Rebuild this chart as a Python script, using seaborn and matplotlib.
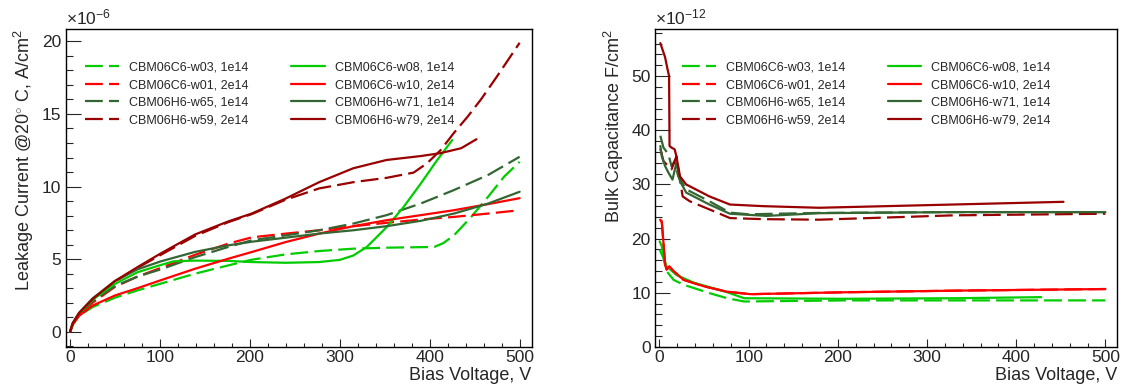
import matplotlib
matplotlib.use("Agg")
import matplotlib.pyplot as plt
import seaborn as sns
from matplotlib.ticker import MultipleLocator

sns.set_style("ticks")
plt.rcParams['font.family'] = ['Liberation Sans', 'DejaVu Sans']
plt.rcParams['mathtext.fontset'] = 'custom'
plt.rcParams['mathtext.rm'] = 'Liberation Sans'
plt.rcParams['mathtext.it'] = 'Liberation Sans'

# ---------------- data ----------------
labels = ["CBM06C6-w03, 1e14", "CBM06C6-w01, 2e14", "CBM06H6-w65, 1e14", "CBM06H6-w59, 2e14",
          "CBM06C6-w08, 1e14", "CBM06C6-w10, 2e14", "CBM06H6-w71, 1e14", "CBM06H6-w79, 2e14"]
colors = ["#00cc00", "#ff0000", "#336633", "#990000",
          "#00cc00", "#ff0000", "#336633", "#990000"]
dashed = [True, True, True, True, False, False, False, False]

# Leakage current (x1e-6 A/cm^2) vs bias voltage (V)
V_std = [0, 3, 10, 25, 50, 75, 101, 139, 176, 202, 240, 277, 315, 352, 390, 427, 465, 500]
iv_w03_v = [0, 3, 10, 25, 50, 75, 100, 139, 176, 202, 240, 277, 315, 352, 405, 415, 427, 446, 465, 483, 500]
iv_w03_i = [0, 0.5, 1.1, 1.7, 2.35, 2.85, 3.3, 4.0, 4.57, 4.96, 5.33, 5.56, 5.72, 5.79, 5.84, 6.1, 6.64, 7.9, 9.3, 10.7, 11.7]
iv_w01_v = V_std
iv_w01_i = [0, 0.55, 1.2, 2.0, 3.1, 3.8, 4.4, 5.3, 6.07, 6.5, 6.76, 6.99, 7.27, 7.5, 7.73, 7.91, 8.14, 8.37]
iv_w65_v = V_std
iv_w65_i = [0, 0.55, 1.2, 2.1, 3.15, 3.8, 4.3, 5.14, 5.84, 6.3, 6.64, 6.99, 7.45, 8.03, 8.83, 9.76, 10.8, 12.05]
iv_w59_v = [0, 3, 10, 25, 50, 75, 101, 139, 176, 202, 240, 277, 315, 352, 382, 397, 412, 427, 442, 457, 475, 500]
iv_w59_i = [0, 0.55, 1.25, 2.2, 3.45, 4.4, 5.3, 6.6, 7.55, 8.1, 9.1, 9.87, 10.3, 10.6, 10.96, 11.6, 12.5, 13.7, 14.8, 16.0, 17.6, 19.9]
iv_w08_v = [0, 3, 10, 25, 50, 75, 101, 115, 139, 176, 202, 240, 277, 300, 315, 330, 352, 371, 390, 408, 425]
iv_w08_i = [0, 0.55, 1.2, 2.2, 3.3, 4.1, 4.6, 4.85, 4.9, 4.88, 4.8, 4.75, 4.8, 4.95, 5.25, 5.84, 7.2, 8.6, 10.2, 11.8, 13.2]
iv_w10_v = V_std
iv_w10_i = [0, 0.5, 1.1, 1.8, 2.5, 3.0, 3.55, 4.34, 5.03, 5.49, 6.18, 6.76, 7.27, 7.68, 8.03, 8.37, 8.79, 9.2]
iv_w71_v = V_std
iv_w71_i = [0, 0.6, 1.3, 2.3, 3.5, 4.3, 4.85, 5.5, 5.95, 6.2, 6.48, 6.76, 6.99, 7.27, 7.64, 8.14, 8.83, 9.64]
iv_w79_v = [0, 3, 10, 25, 50, 75, 101, 139, 176, 202, 240, 277, 315, 352, 390, 412, 435, 452]
iv_w79_i = [0, 0.6, 1.3, 2.25, 3.5, 4.45, 5.4, 6.7, 7.6, 8.14, 9.18, 10.3, 11.26, 11.83, 12.1, 12.3, 12.64, 13.26]

# Bulk capacitance (x1e-12 F/cm^2) vs bias voltage (V)
cv_w03_v = [0.2, 4.5, 8, 15.8, 27, 57, 76, 95, 207, 330, 500]
cv_w03_c = [18, 16.4, 14, 12.4, 11.5, 9.9, 9.0, 8.4, 8.6, 8.6, 8.6]
cv_w01_v = [0.8, 2.6, 4.5, 6.3, 8, 11, 15.8, 27, 50, 76, 102, 207, 330, 500]
cv_w01_c = [23.4, 23.1, 19.2, 15.2, 14.3, 14.8, 14.0, 12.4, 11.2, 10.2, 9.75, 10.1, 10.4, 10.7]
cv_w65_v = [1, 4.5, 10, 13.5, 17, 21, 30, 56, 79, 100, 179, 329, 500]
cv_w65_c = [39, 36.8, 35.6, 33.4, 34.3, 31.5, 29.1, 26.9, 24.8, 24.5, 24.75, 24.9, 24.9]
cv_w59_v = [1, 4.5, 8, 13.5, 19, 23, 26, 34, 56, 79, 116, 179, 329, 500]
cv_w59_c = [36.6, 34.3, 33.7, 32.8, 35.2, 30.9, 27.8, 26.9, 25.4, 23.8, 23.6, 23.5, 24.3, 24.6]
cv_w08_v = [0.2, 2.6, 5, 8, 19, 38, 57, 76, 95, 207, 330, 428]
cv_w08_c = [19.5, 18.6, 16.4, 14.9, 13.3, 11.9, 11.0, 10.1, 9.0, 8.9, 9.0, 9.2]
cv_w10_v = [0.8, 2.6, 4.5, 6.3, 8, 11, 15.8, 27, 50, 76, 102, 207, 330, 500]
cv_w10_c = [23.5, 23.2, 19.2, 15.2, 14.3, 14.9, 14.0, 12.4, 11.2, 10.2, 9.75, 10.1, 10.4, 10.7]
cv_w71_v = [1, 2.6, 6.3, 10, 14.6, 19, 23, 30, 56, 79, 120, 179, 329, 500]
cv_w71_c = [37.1, 35.2, 33.4, 32.2, 30.9, 34.0, 30.6, 28.5, 26.3, 24.6, 24.2, 24.7, 24.9, 24.9]
cv_w79_v = [1, 2.6, 6.3, 9, 10.8, 11.3, 13.5, 17, 19, 23, 30, 56, 79, 116, 179, 329, 453]
cv_w79_c = [56.1, 55.3, 53.5, 51.3, 50, 37.1, 36.8, 36.5, 35.2, 31.5, 30, 27.8, 26.3, 26.0, 25.7, 26.3, 26.8]

iv_series = [(iv_w03_v, iv_w03_i), (iv_w01_v, iv_w01_i), (iv_w65_v, iv_w65_i), (iv_w59_v, iv_w59_i),
             (iv_w08_v, iv_w08_i), (iv_w10_v, iv_w10_i), (iv_w71_v, iv_w71_i), (iv_w79_v, iv_w79_i)]
cv_series = [(cv_w03_v, cv_w03_c), (cv_w01_v, cv_w01_c), (cv_w65_v, cv_w65_c), (cv_w59_v, cv_w59_c),
             (cv_w08_v, cv_w08_c), (cv_w10_v, cv_w10_c), (cv_w71_v, cv_w71_c), (cv_w79_v, cv_w79_c)]

# ---------------- figure ----------------
fig = plt.figure(figsize=(11.26, 3.87), dpi=100)
ax1 = fig.add_axes([65.5/1126, 1-347/387, (531.5-65.5)/1126, 318/387])
ax2 = fig.add_axes([655/1126, 1-347/387, (1117-655)/1126, 318/387])

dash_style = (0, (8, 2.8))


def draw(ax, series):
    handles = []
    for (x, y), c, d, lab in zip(series, colors, dashed, labels):
        sns.lineplot(x=x, y=y, ax=ax, color=c, lw=1.6, sort=False, estimator=None,
                     linestyle=dash_style if d else '-', label=lab, legend=False)
        handles.append(ax.lines[-1])
    return handles


h1 = draw(ax1, iv_series)
h2 = draw(ax2, cv_series)


def style(ax, xlim, ylim, ymaj, ymin_, ylabel, mult):
    ax.set_xlim(*xlim)
    ax.set_ylim(*ylim)
    ax.xaxis.set_major_locator(MultipleLocator(100))
    ax.xaxis.set_minor_locator(MultipleLocator(20))
    ax.yaxis.set_major_locator(MultipleLocator(ymaj))
    ax.yaxis.set_minor_locator(MultipleLocator(ymin_))
    ax.tick_params(axis='x', which='major', direction='in', length=6, width=0.8,
                   labelsize=12.5, pad=2, top=False)
    ax.tick_params(axis='x', which='minor', direction='in', length=3, width=0.8, top=False)
    ax.tick_params(axis='y', which='major', direction='in', length=10.5, width=0.8,
                   labelsize=12.5, pad=3, right=False)
    ax.tick_params(axis='y', which='minor', direction='in', length=5, width=0.8, right=False)
    for s in ax.spines.values():
        s.set_visible(True)
        s.set_linewidth(1.0)
        s.set_color('black')
    ax.set_xlabel("Bias Voltage, V", fontsize=13, loc='right', labelpad=1.5)
    ax.set_ylabel(ylabel, fontsize=13, loc='top', labelpad=4)
    ax.text(0.0, 1.005, mult, transform=ax.transAxes, ha='left', va='bottom', fontsize=12.5)


style(ax1, (-5.1, 513.2), (-1.05, 20.85), 5, 1,
      r"Leakage Current @20$^{\circ}$ C, A/cm$^{2}$", r"$\times$10$^{-6}$")
style(ax2, (-5, 513), (0, 58.7), 10, 2,
      r"Bulk Capacitance F/cm$^{2}$", r"$\times$10$^{-12}$")


def legend(ax, handles, x0):
    ax.legend(handles=handles, labels=labels, ncol=2, loc='upper left',
              bbox_to_anchor=(x0, 0.898), frameon=False, fontsize=9,
              handlelength=2.7, handletextpad=0.8, columnspacing=3.4,
              labelspacing=0.45, borderpad=0, borderaxespad=0)


legend(ax1, h1, 0.042)
legend(ax2, h2, 0.058)

fig.savefig("out.png", dpi=100)
